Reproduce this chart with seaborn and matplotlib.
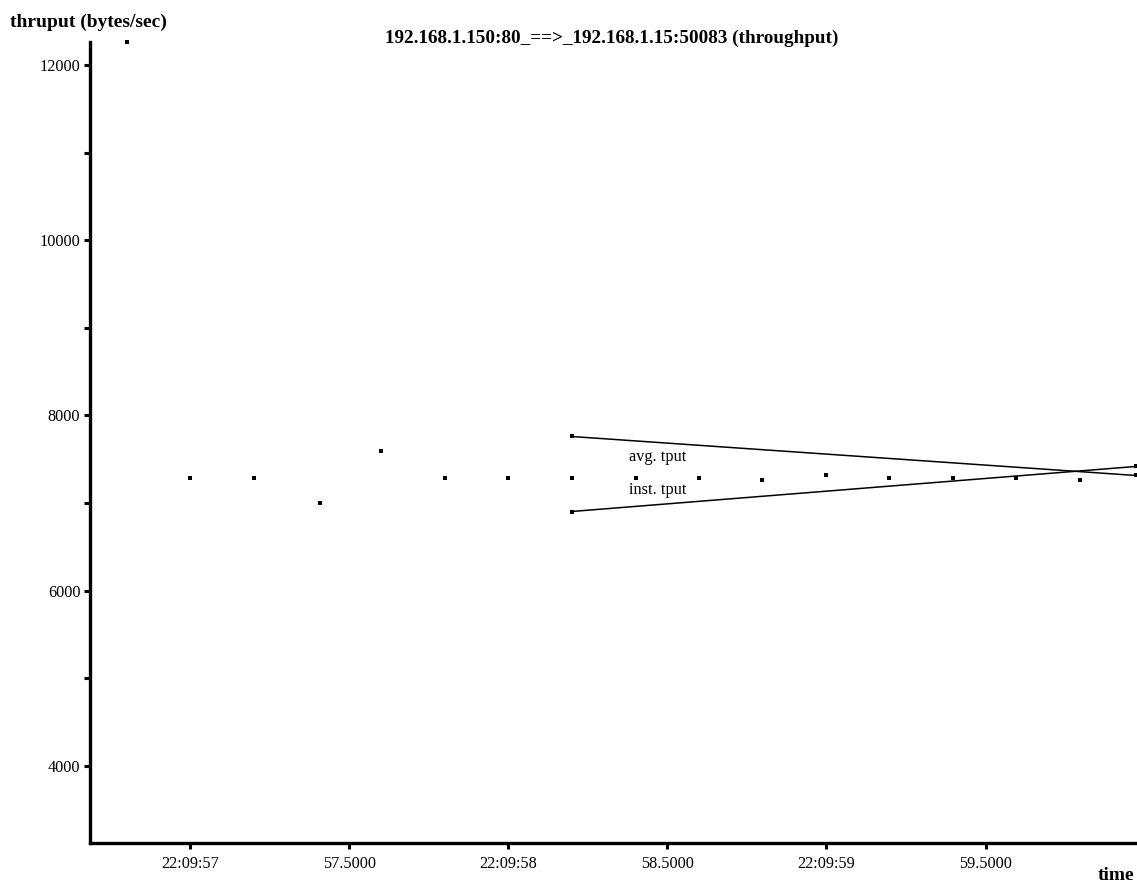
import numpy as np
import pandas as pd
import matplotlib
matplotlib.use("Agg")
import matplotlib.pyplot as plt
import seaborn as sns

# segment throughput samples (seconds within 22:09:xx, bytes/sec)
inst_t = [56.802, 57.0, 57.2, 57.408, 57.6, 57.8, 58.0, 58.199, 58.4,
          58.598, 58.798, 59.0, 59.197, 59.398, 59.596, 59.797]
inst_v = [12262, 7292, 7281, 6999, 7600, 7281, 7292, 7281, 7292,
          7292, 7258, 7315, 7281, 7292, 7292, 7258]

# avg / inst tput lines (start and end points)
avg_line_t = [58.199, 59.972]
avg_line_v = [7760, 7315]
inst_line_t = [58.199, 59.972]
inst_line_v = [6904, 7418]

xtick_pos = [57.0, 57.5, 58.0, 58.5, 59.0, 59.5]
xtick_lab = ["22:09:57", "57.5000", "22:09:58", "58.5000", "22:09:59", "59.5000"]
ytick_major = [4000, 6000, 8000, 10000, 12000]
ytick_minor = [5000, 7000, 9000, 11000]

sns.set_style("white")
plt.rcParams['font.family'] = ['Liberation Serif', 'DejaVu Serif']
plt.rcParams['text.color'] = 'black'
plt.rcParams['xtick.color'] = 'black'
plt.rcParams['ytick.color'] = 'black'

fig = plt.figure(figsize=(11.37, 8.83), dpi=100)
ax = fig.add_axes([90 / 1137, 40 / 883, 1 - 90 / 1137 - 0.001, 801 / 883])

pts = pd.DataFrame({"t": inst_t, "v": inst_v})
sns.scatterplot(data=pts, x="t", y="v", ax=ax, marker="s", s=5,
                color="black", edgecolor="black", linewidth=0, clip_on=False)

lines = pd.DataFrame({
    "t": avg_line_t + inst_line_t,
    "v": avg_line_v + inst_line_v,
    "kind": ["avg"] * 2 + ["inst"] * 2,
})
sns.lineplot(data=lines, x="t", y="v", units="kind", estimator=None,
             color="black", linewidth=1.1, ax=ax, clip_on=False,
             marker="s", markersize=2.2, markeredgewidth=0)

ax.text(58.38, 7521, "avg. tput", fontsize=11.7, va="center", ha="left")
ax.text(58.38, 7155, "inst. tput", fontsize=11.7, va="center", ha="left")

ax.set_xlim(56.686, 59.972)
ax.set_ylim(3121, 12262)

ax.set_xticks(xtick_pos)
ax.set_xticklabels(xtick_lab)
ax.set_yticks(ytick_major)
ax.set_yticklabels([str(v) for v in ytick_major])
ax.set_yticks(ytick_minor, minor=True)
ax.tick_params(axis="both", which="both", direction="out", length=4,
               width=2.2, color="black", labelsize=11.7, pad=3,
               bottom=True, left=True)
ax.tick_params(axis="x", pad=5)

for side in ["top", "right"]:
    ax.spines[side].set_visible(False)
for side in ["left", "bottom"]:
    ax.spines[side].set_linewidth(2.4)
    ax.spines[side].set_color("black")

ax.set_xlabel("")
ax.set_ylabel("")

fig.text(10 / 1137, 1 - 22 / 883, "thruput (bytes/sec)", fontsize=14,
         fontweight="bold", ha="left", va="center")
fig.text(612 / 1137, 1 - 38 / 883, "192.168.1.150:80_==>_192.168.1.15:50083 (throughput)",
         fontsize=13.8, fontweight="bold", ha="center", va="center")
fig.text(1134 / 1137, 1 - 880 / 883, "time", fontsize=14, fontweight="bold",
         ha="right", va="baseline")

fig.savefig("out.png", dpi=100)
